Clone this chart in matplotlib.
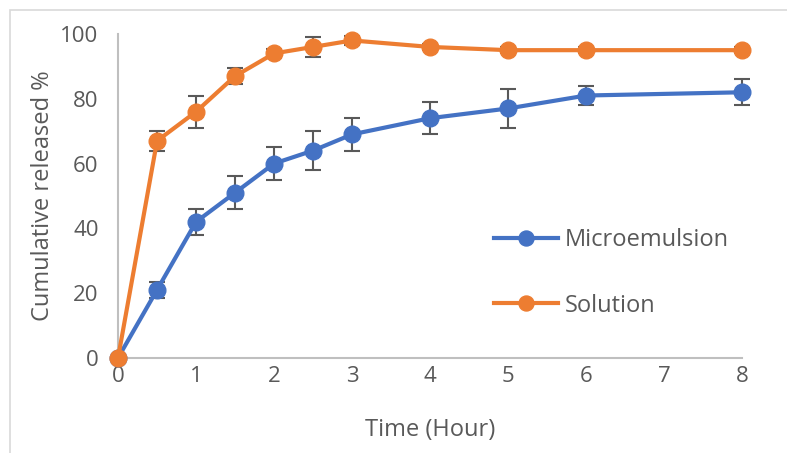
import matplotlib.pyplot as plt
from matplotlib.patches import Rectangle

plt.rcParams["font.family"] = ["Open Sans", "DejaVu Sans"]

time_h = [0, 0.5, 1, 1.5, 2, 2.5, 3, 4, 5, 6, 8]
micro = [0, 21, 42, 51, 60, 64, 69, 74, 77, 81, 82]
micro_err = [0, 2.5, 4, 5, 5, 6, 5, 5, 6, 3, 4]
solution = [0, 67, 76, 87, 94, 96, 98, 96, 95, 95, 95]
solution_err = [0, 3, 5, 2.5, 1.5, 3, 1.5, 1, 1, 1, 1]

text_color = "#595959"
axis_color = "#BFBFBF"

fig = plt.figure(figsize=(7.87, 4.53), dpi=100)
ax = fig.add_axes([0.15, 0.21, 0.793, 0.715])

fig.patches.append(Rectangle((10 / 787, -0.1), 1.2, 1 - 10 / 453 + 0.1,
                             transform=fig.transFigure, fill=False,
                             edgecolor="#D9D9D9", linewidth=1.2))

for y, err, color, label in [(micro, micro_err, "#4472C4", "Microemulsion"),
                             (solution, solution_err, "#ED7D31", "Solution")]:
    ax.errorbar(time_h, y, yerr=err, color=color, ecolor="#595959",
                elinewidth=1.5, capsize=6, capthick=1.5, zorder=2,
                linestyle="none")
    ax.plot(time_h, y, color=color, linewidth=3, marker="o", markersize=12,
            label=label, zorder=3)

ax.set_xlim(0, 8)
ax.set_ylim(0, 100)
ax.set_xticks(range(0, 9))
ax.set_yticks(range(0, 101, 20))

for s in ["top", "right"]:
    ax.spines[s].set_visible(False)
for s in ["left", "bottom"]:
    ax.spines[s].set_color(axis_color)
    ax.spines[s].set_linewidth(1.5)
ax.tick_params(length=0, labelsize=16, colors=text_color)
ax.tick_params(axis="y", pad=14)
ax.tick_params(axis="x", pad=6)
for artist in ax.get_children():
    artist.set_clip_on(False)

ax.set_xlabel("Time (Hour)", fontsize=17, color=text_color, labelpad=22)
ax.set_ylabel("Cumulative released %", fontsize=17, color=text_color, labelpad=4)

ax.legend(loc="center left", bbox_to_anchor=(0.569, 0.262), frameon=False,
          fontsize=17, labelcolor=text_color, labelspacing=1.75,
          handlelength=2.7, handletextpad=0.3, markerscale=0.9)

plt.savefig("out.png", dpi=100)
